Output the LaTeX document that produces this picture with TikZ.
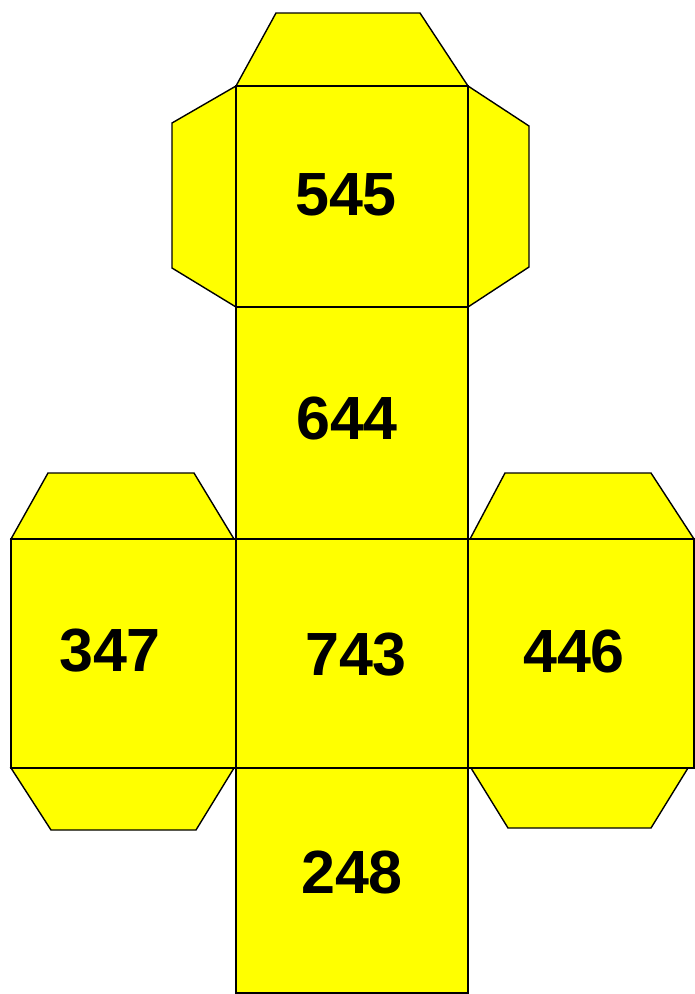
\documentclass[tikz,border=0pt]{standalone}
\usepackage{fontspec}
\setmainfont{Liberation Sans}
\begin{document}
\begin{tikzpicture}[x=1pt,y=-1pt,
  piece/.style={fill={rgb,255:red,255;green,255;blue,0},draw=black,line width=1.4pt,line join=miter},
  lbl/.style={inner sep=0pt,font=\fontsize{61}{63}\selectfont\bfseries}]
\useasboundingbox (0,0) rectangle (695,994);
% tabs
\draw[piece] (236,86) -- (276,13) -- (420,13) -- (468,86) -- cycle;
\draw[piece] (236,86) -- (172,123) -- (172,268) -- (236,307) -- cycle;
\draw[piece] (468,86) -- (529,126) -- (529,267) -- (468,307) -- cycle;
\draw[piece] (11,539) -- (48,473) -- (194,473) -- (234,539) -- cycle;
\draw[piece] (11,768) -- (51,830) -- (196,830) -- (234,768) -- cycle;
\draw[piece] (470,539) -- (505,473) -- (651,473) -- (694,539) -- cycle;
\draw[piece] (471,768) -- (508,828) -- (651,828) -- (688,768) -- cycle;
% faces
\draw[piece] (236,86) rectangle (468,307);
\draw[piece] (236,307) rectangle (468,539);
\draw[piece] (11,539) rectangle (236,768);
\draw[piece] (236,539) rectangle (468,768);
\draw[piece] (468,539) rectangle (694,768);
\draw[piece] (236,768) rectangle (468,993);
% labels
\node[lbl] (f545) at (346,195) {545};
\node[lbl] (f644) at (347,418) {644};
\node[lbl] (f347) at (110,651) {347};
\node[lbl] (f743) at (356,655) {743};
\node[lbl] (f446) at (574,651) {446};
\node[lbl] (f248) at (352,872) {248};
\end{tikzpicture}
\end{document}
